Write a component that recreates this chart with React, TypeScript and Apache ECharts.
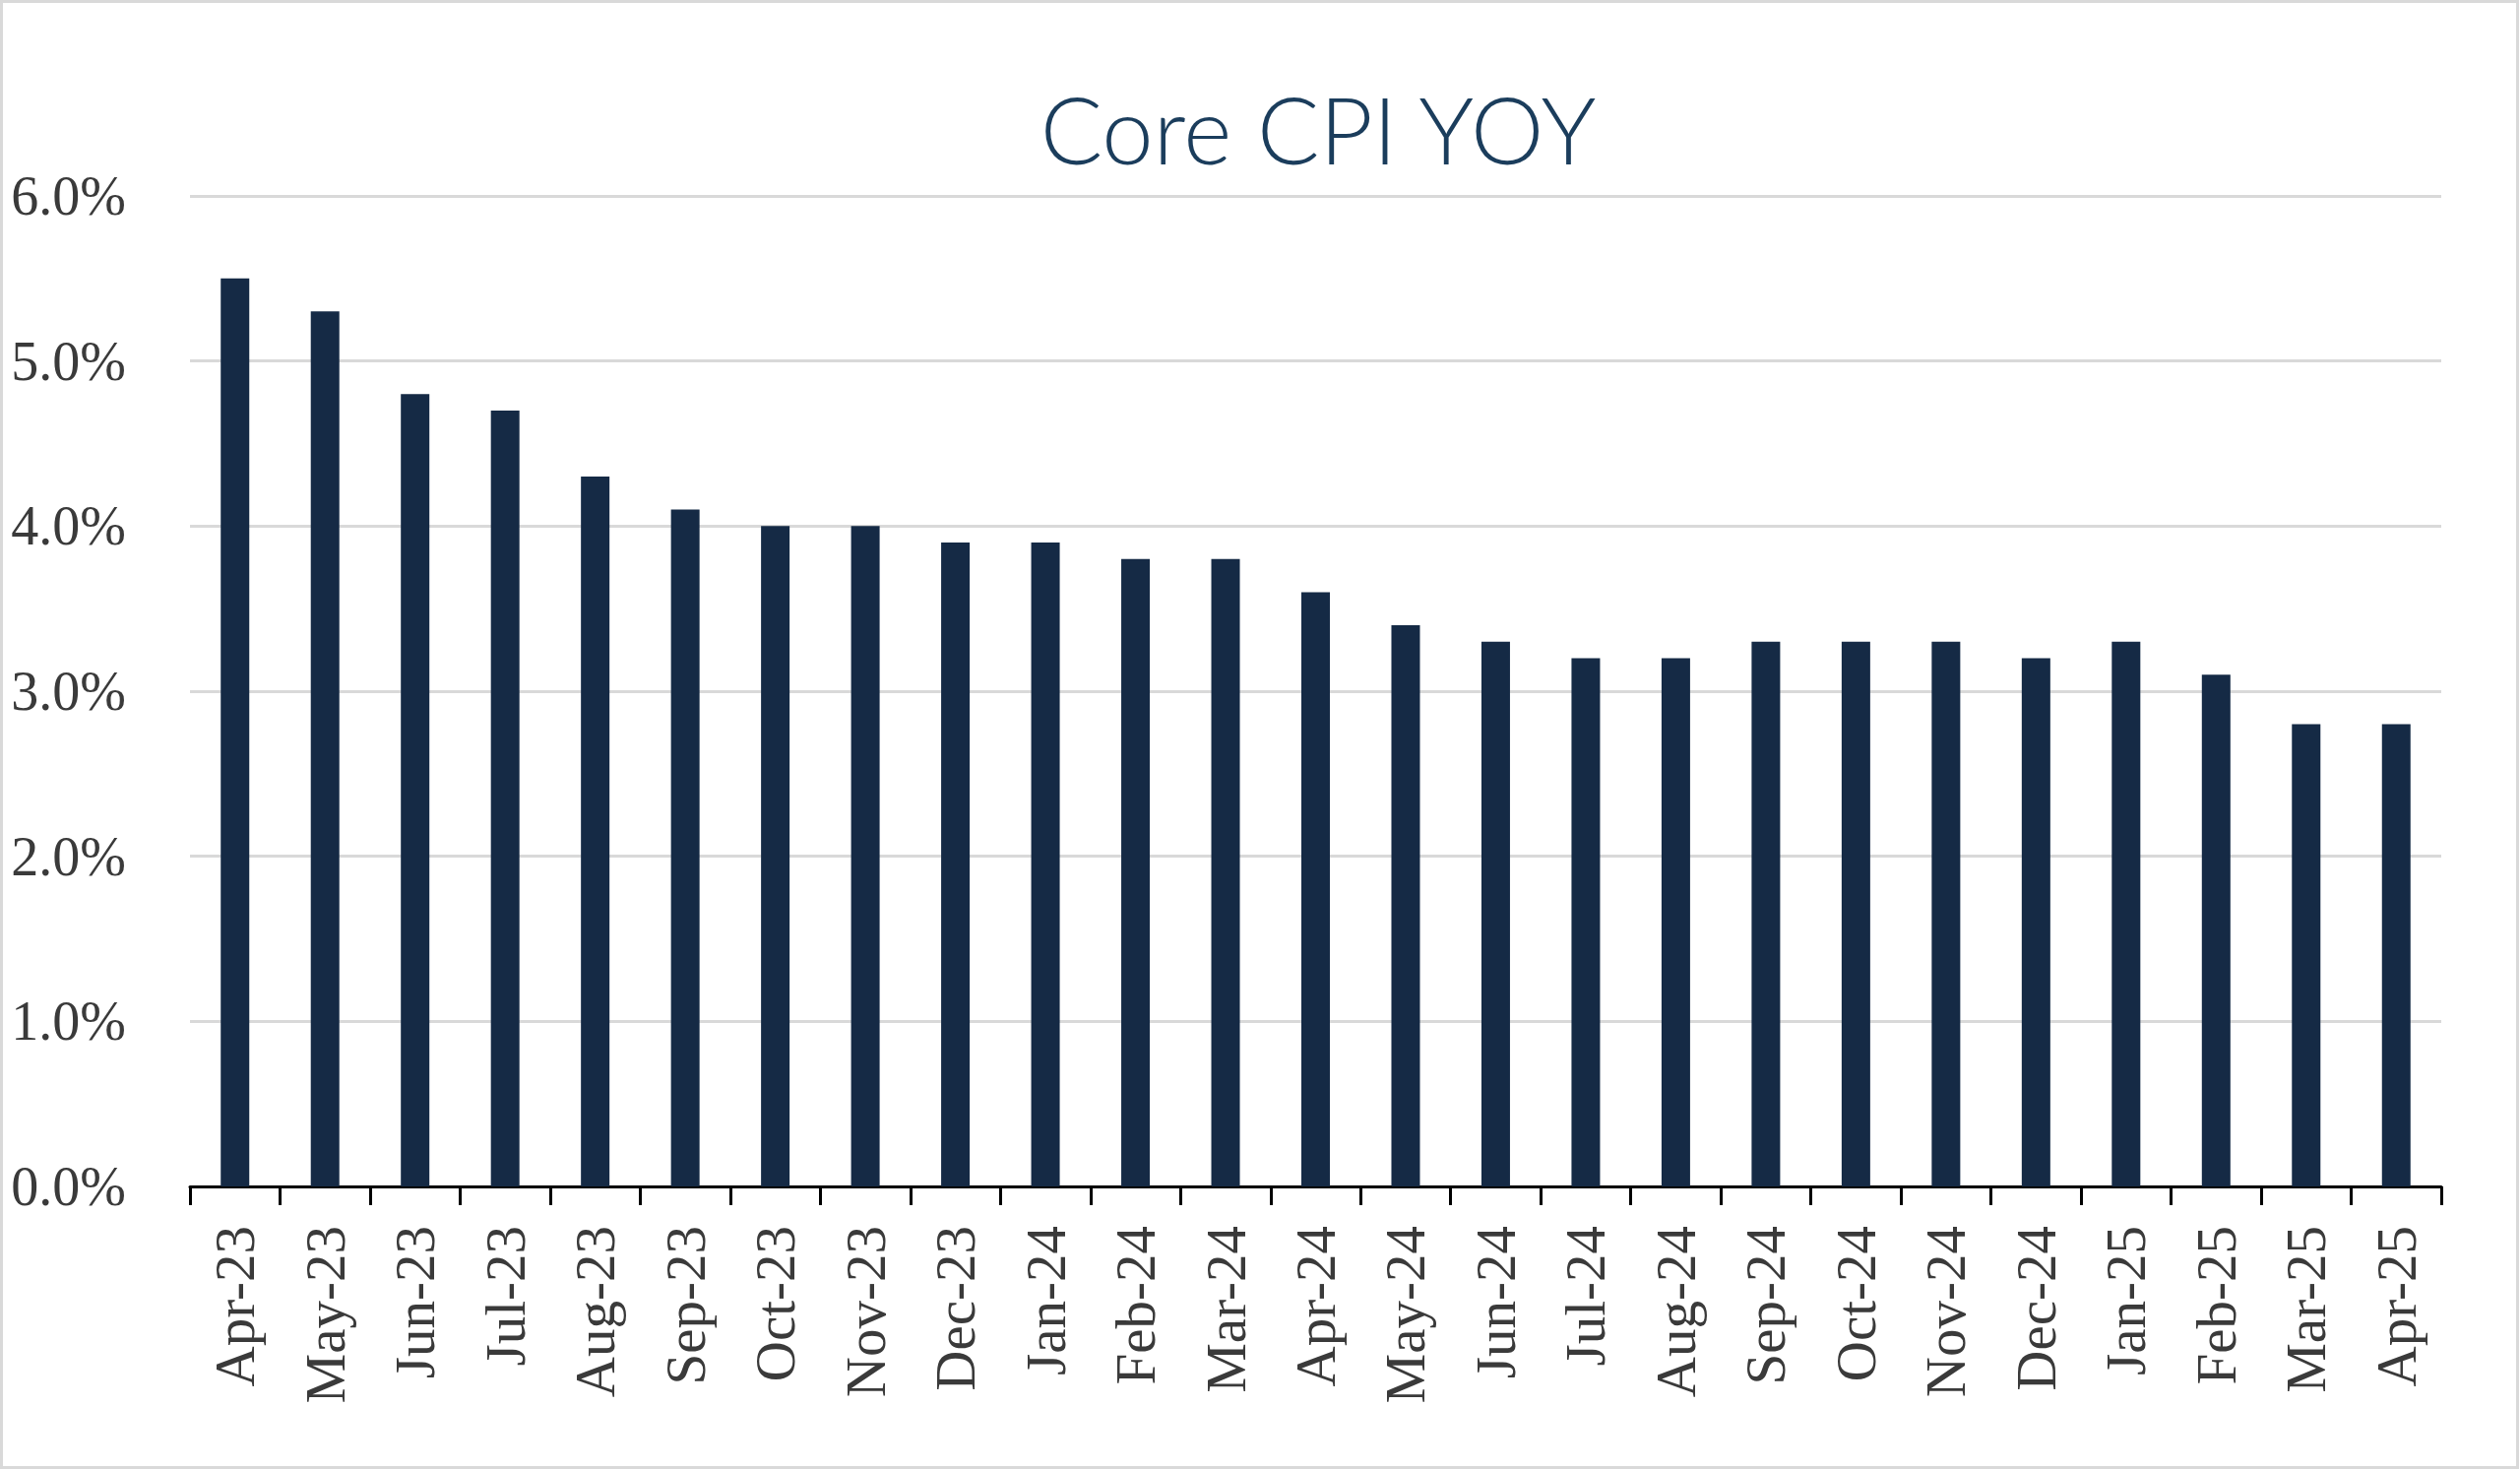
import React, { useEffect, useRef } from "react";
import * as echarts from "echarts";

const categories = [
  "Apr-23", "May-23", "Jun-23", "Jul-23", "Aug-23", "Sep-23", "Oct-23", "Nov-23",
  "Dec-23", "Jan-24", "Feb-24", "Mar-24", "Apr-24", "May-24", "Jun-24", "Jul-24",
  "Aug-24", "Sep-24", "Oct-24", "Nov-24", "Dec-24", "Jan-25", "Feb-25", "Mar-25", "Apr-25",
];
const coreCpiYoy = [
  5.5, 5.3, 4.8, 4.7, 4.3, 4.1, 4.0, 4.0, 3.9, 3.9, 3.8, 3.8, 3.6, 3.4, 3.3, 3.2,
  3.2, 3.3, 3.3, 3.3, 3.2, 3.3, 3.1, 2.8, 2.8,
];
const titleText = "Core CPI YOY";

export default function App() {
  const ref = useRef<HTMLDivElement>(null);
  useEffect(() => {
    if (!ref.current) return;
    const chart = echarts.init(ref.current, null, { renderer: "svg" });
    chart.setOption({
      animation: false,
      backgroundColor: "#ffffff",
      grid: { left: 193, right: 80, top: 199, bottom: 288, containLabel: false },
      graphic: [
        {
          type: "rect",
          shape: { x: 1.5, y: 1.5, width: 2556, height: 1489 },
          style: { fill: "none", stroke: "#d9d9d9", lineWidth: 3 },
          silent: true,
        },
        {
          type: "text",
          x: 1339,
          y: 130,
          style: {
            text: titleText,
            font: "300 94px Lato",
            fill: "#1b3d5c",
            textAlign: "center",
            textVerticalAlign: "middle",
          },
        },
      ],
      xAxis: {
        type: "category",
        data: categories,
        axisLine: { lineStyle: { color: "#000000", width: 3 } },
        axisTick: { show: true, length: 19, interval: 0, lineStyle: { color: "#000000", width: 3 } },
        axisLabel: {
          interval: 0,
          rotate: 90,
          margin: 40,
          color: "#3a3a3a",
          fontFamily: "Liberation Serif",
          fontSize: 57,
        },
      },
      yAxis: {
        type: "value",
        min: 0,
        max: 6,
        interval: 1,
        axisLine: { show: false },
        axisTick: { show: false },
        splitLine: { lineStyle: { color: "#d9d9d9", width: 3 } },
        axisLabel: {
          margin: 65,
          color: "#3a3a3a",
          fontFamily: "Liberation Serif",
          fontSize: 56,
          padding: [0, 0, 8, 0],
          formatter: (v: number) => v.toFixed(1) + "%",
        },
      },
      series: [
        {
          type: "bar",
          data: coreCpiYoy,
          barWidth: 29,
          itemStyle: { color: "#152a45" },
        },
      ],
    });
    return () => chart.dispose();
  }, []);
  return (
    <div
      ref={ref}
      style={{ position: "fixed", left: 0, top: 0, width: 2560, height: 1493 }}
    />
  );
}
